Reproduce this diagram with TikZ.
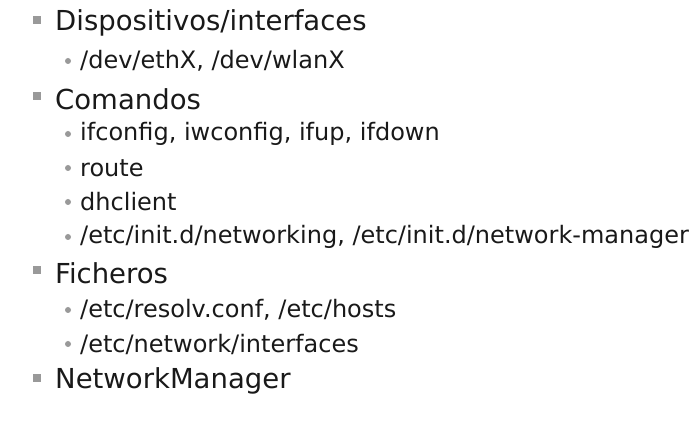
\documentclass[tikz,border=0pt]{standalone}
\usepackage{fontspec}
\setmainfont{DejaVu Sans}
\begin{document}
\begin{tikzpicture}[x=1pt,y=-1pt,
  lone/.style={anchor=west,inner sep=0pt,font=\fontsize{27.5}{32}\selectfont,text=black!90},
  ltwo/.style={anchor=west,inner sep=0pt,font=\fontsize{24}{28}\selectfont,text=black!90},
  sq/.style={fill=black!40,minimum size=8pt,inner sep=0pt},
  dot/.style={circle,fill=black!40,minimum size=6pt,inner sep=0pt}]
\useasboundingbox (0,0) rectangle (697,422);
\node[sq] (b1) at (37,20) {}; \node[lone] (t1) at (55,23) {Dispositivos/interfaces};
\node[dot] (b2) at (68,61) {}; \node[ltwo] (t2) at (80,61) {/dev/ethX, /dev/wlanX};
\node[sq] (b3) at (37,96) {}; \node[lone] (t3) at (55,99) {Comandos};
\node[dot] (b4) at (68,134) {}; \node[ltwo] (t4) at (80,134) {ifconfig, iwconfig, ifup, ifdown};
\node[dot] (b5) at (68,168) {}; \node[ltwo] (t5) at (80,168) {route};
\node[dot] (b6) at (68,202) {}; \node[ltwo] (t6) at (80,202) {dhclient};
\node[dot] (b7) at (68,237) {}; \node[ltwo] (t7) at (80,237) {/etc/init.d/networking, /etc/init.d/network-manager};
\node[sq] (b8) at (37,270) {}; \node[lone] (t8) at (55,273) {Ficheros};
\node[dot] (b9) at (68,310) {}; \node[ltwo] (t9) at (80,310) {/etc/resolv.conf, /etc/hosts};
\node[dot] (b10) at (68,344) {}; \node[ltwo] (t10) at (80,344) {/etc/network/interfaces};
\node[sq] (b11) at (37,378) {}; \node[lone] (t11) at (55,381) {NetworkManager};
\end{tikzpicture}
\end{document}
